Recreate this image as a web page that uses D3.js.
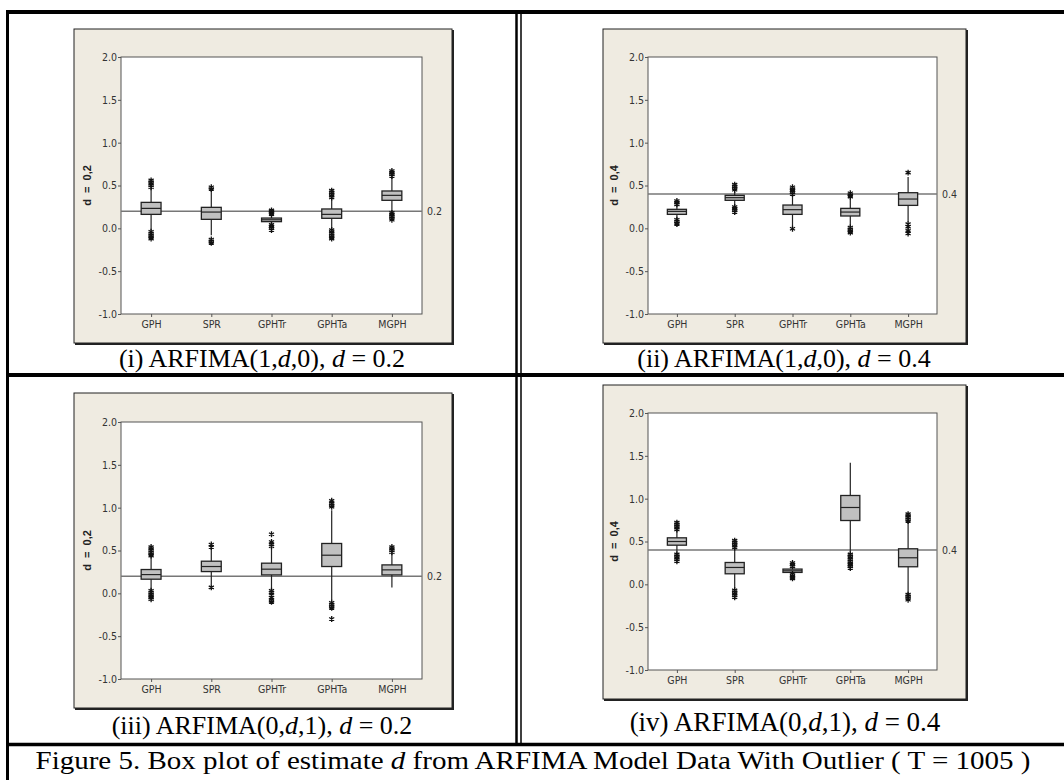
<!DOCTYPE html>
<html>
<head>
<meta charset="utf-8" />
<title>Box plot of estimate d</title>
<script src="https://cdn.jsdelivr.net/npm/d3@7"></script>
<style>
  body { margin: 0; background: #fff; }
  .tick text { font-family: "Liberation Sans Narrow", "DejaVu Sans Condensed", sans-serif; font-size: 10.5px; fill: #333; }
  .tick line { stroke: #555; }
  .cap { font-family: "Liberation Serif", "Times New Roman", Times, serif; }
</style>
</head>
<body>
<script>
// methods on the x axis, same for every panel
var methods = ["GPH", "SPR", "GPHTr", "GPHTa", "MGPH"];
var yTicks = [-1.0, -0.5, 0.0, 0.5, 1.0, 1.5, 2.0];

// each box: [low whisker, Q1, median, Q3, high whisker]
var boxesI = [[-0.02, 0.163, 0.233, 0.303, 0.47], [-0.08, 0.105, 0.19, 0.245, 0.45], [0.05, 0.078, 0.10, 0.12, 0.155], [0.0, 0.117, 0.163, 0.226, 0.35], [0.20, 0.327, 0.385, 0.436, 0.60]];
var outliersI = [[0.48, 0.50, 0.52, 0.54, 0.56, -0.04, -0.06, -0.08, -0.10, -0.12], [0.46, 0.48, -0.13, -0.15, -0.17], [0.165, 0.18, 0.195, 0.21, 0.04, 0.02, 0.0, -0.02], [0.36, 0.38, 0.40, 0.42, 0.44, -0.02, -0.04, -0.06, -0.08, -0.10, -0.12], [0.61, 0.63, 0.65, 0.67, 0.18, 0.16, 0.14, 0.12, 0.10]];

var boxesII = [[0.11, 0.163, 0.198, 0.222, 0.27], [0.27, 0.327, 0.358, 0.385, 0.43], [0.02, 0.163, 0.218, 0.272, 0.39], [0.03, 0.144, 0.19, 0.233, 0.36], [0.08, 0.268, 0.342, 0.416, 0.60]];
var outliersII = [[0.28, 0.30, 0.32, 0.10, 0.08, 0.06, 0.05], [0.45, 0.47, 0.49, 0.51, 0.25, 0.23, 0.21, 0.19], [0.40, 0.42, 0.44, 0.46, 0.48, -0.005], [0.37, 0.39, 0.41, 0.01, -0.01, -0.03, -0.05], [0.65, 0.05, 0.02, -0.03, -0.06]];

var boxesIII = [[0.04, 0.165, 0.219, 0.278, 0.43], [0.10, 0.254, 0.313, 0.375, 0.52], [0.04, 0.215, 0.282, 0.352, 0.54], [-0.08, 0.313, 0.445, 0.582, 0.97], [0.067, 0.215, 0.274, 0.332, 0.47]];
var outliersIII = [[0.44, 0.46, 0.48, 0.50, 0.52, 0.54, 0.03, 0.01, -0.01, -0.03, -0.05, -0.07], [0.54, 0.57, 0.07], [0.55, 0.57, 0.60, 0.69, 0.03, 0.01, -0.02, -0.05, -0.08, -0.10], [1.01, 1.03, 1.05, 1.08, -0.11, -0.13, -0.15, -0.17, -0.30], [0.48, 0.50, 0.52, 0.54]];

var boxesIV = [[0.36, 0.457, 0.50, 0.543, 0.63], [-0.05, 0.123, 0.197, 0.255, 0.42], [0.125, 0.139, 0.158, 0.178, 0.20], [0.36, 0.745, 0.897, 1.037, 1.42], [-0.10, 0.205, 0.31, 0.415, 0.73]];
var outliersIV = [[0.64, 0.66, 0.68, 0.70, 0.72, 0.35, 0.33, 0.31, 0.29, 0.27], [0.43, 0.45, 0.47, 0.49, 0.51, -0.07, -0.09, -0.11, -0.13, -0.15], [0.21, 0.23, 0.25, 0.12, 0.10, 0.08, 0.07], [0.35, 0.33, 0.31, 0.29, 0.27, 0.25, 0.23, 0.21, 0.19], [0.74, 0.76, 0.78, 0.80, 0.82, -0.12, -0.14, -0.16, -0.18]];

var trueD = [0.2, 0.4, 0.2, 0.4];
var yLabels = ["d  =  0,2", "d  =  0,4", "d  =  0,2", "d  =  0,4"];
var captions = [["(i) ARFIMA(1,", "d", ",0), ", "d", " = 0.2"], ["(ii) ARFIMA(1,", "d", ",0), ", "d", " = 0.4"], ["(iii) ARFIMA(0,", "d", ",1), ", "d", " = 0.2"], ["(iv) ARFIMA(0,", "d", ",1), ", "d", " = 0.4"]];

var W = 1064, H = 780;
var svg = d3.select("body").append("svg").attr("width", W).attr("height", H);

// panel layout: frame box, plot box, caption position + size
var panels = [
    { boxes: boxesI, outs: outliersI, frame: [74, 29, 452, 343], plot: [121, 57, 422, 314], cap: [262, 367, 26] },
    { boxes: boxesII, outs: outliersII, frame: [603, 29, 966, 343], plot: [648, 57, 937, 314], cap: [784, 367, 26] },
    { boxes: boxesIII, outs: outliersIII, frame: [74, 393, 452, 708], plot: [121, 422, 422, 679], cap: [262, 734, 26] },
    { boxes: boxesIV, outs: outliersIV, frame: [603, 385, 966, 699], plot: [648, 413, 937, 670], cap: [785, 731, 27] }
];

var star = d3.symbol().type(d3.symbolAsterisk).size(24);

panels.forEach(function (p, k) {
    var g = svg.append("g");
    var f = p.frame, pl = p.plot;

    // beige graph window
    g.append("rect").attr("x", f[0]).attr("y", f[1]).attr("width", f[2] - f[0]).attr("height", f[3] - f[1])
        .attr("fill", "#efebe1").attr("stroke", "#222").attr("stroke-width", 1);
    g.append("path").attr("d", "M" + (f[2] + 1) + "," + (f[1] + 1) + "V" + (f[3] + 1) + "H" + (f[0] + 1))
        .attr("fill", "none").attr("stroke", "#222").attr("stroke-width", 2);

    g.append("rect").attr("x", pl[0]).attr("y", pl[1]).attr("width", pl[2] - pl[0]).attr("height", pl[3] - pl[1])
        .attr("fill", "#fff").attr("stroke", "#555").attr("stroke-width", 1);

    var x = d3.scalePoint().domain(methods).range([pl[0], pl[2]]).padding(0.5);
    var y = d3.scaleLinear().domain([-1, 2]).range([pl[3], pl[1]]);
    var bw = x.step() * 0.33;

    var ya = g.append("g").attr("transform", "translate(" + pl[0] + ",0)")
        .call(d3.axisLeft(y).tickValues(yTicks).tickSize(3).tickPadding(1).tickFormat(function (d) { return d.toFixed(1); }));
    ya.select(".domain").remove();
    var xa = g.append("g").attr("transform", "translate(0," + pl[3] + ")")
        .call(d3.axisBottom(x).tickSize(3).tickPadding(4));
    xa.select(".domain").remove();

    g.append("text").attr("transform", "translate(" + (pl[0] - 30) + "," + ((pl[1] + pl[3]) / 2) + ") rotate(-90)")
        .attr("text-anchor", "middle").attr("font-family", "Liberation Sans, Arial, sans-serif")
        .attr("font-size", "11px").attr("font-weight", "bold").attr("fill", "#222")
        .attr("xml:space", "preserve").text(yLabels[k]);

    // reference line at true d
    g.append("line").attr("x1", pl[0]).attr("x2", pl[2]).attr("y1", y(trueD[k])).attr("y2", y(trueD[k]))
        .attr("stroke", "#777").attr("stroke-width", 1.5);
    g.append("text").attr("x", pl[2] + 5).attr("y", y(trueD[k])).attr("dy", "0.35em")
        .attr("font-family", "Liberation Sans Narrow, DejaVu Sans Condensed, sans-serif").attr("font-size", "10.5px")
        .attr("fill", "#333").text(trueD[k]);

    var bx = g.selectAll(".bx").data(p.boxes).enter().append("g").attr("class", "bx");
    bx.append("line")
        .attr("x1", function (d, i) { return x(methods[i]); })
        .attr("x2", function (d, i) { return x(methods[i]); })
        .attr("y1", function (d) { return y(d[0]); })
        .attr("y2", function (d) { return y(d[4]); })
        .attr("stroke", "#222").attr("stroke-width", 1.2);
    bx.append("rect")
        .attr("x", function (d, i) { return x(methods[i]) - bw / 2; })
        .attr("y", function (d) { return y(d[3]); })
        .attr("width", bw)
        .attr("height", function (d) { return y(d[1]) - y(d[3]); })
        .attr("fill", "#c0c0c0").attr("stroke", "#222").attr("stroke-width", 1.3);
    bx.append("line")
        .attr("x1", function (d, i) { return x(methods[i]) - bw / 2; })
        .attr("x2", function (d, i) { return x(methods[i]) + bw / 2; })
        .attr("y1", function (d) { return y(d[2]); })
        .attr("y2", function (d) { return y(d[2]); })
        .attr("stroke", "#222").attr("stroke-width", 1.2);

    // outliers as asterisks
    p.outs.forEach(function (vals, i) {
        g.selectAll(null).data(vals).enter().append("path")
            .attr("d", star)
            .attr("transform", function (v) { return "translate(" + x(methods[i]) + "," + y(v) + ")"; })
            .attr("fill", "none").attr("stroke", "#111").attr("stroke-width", 1.3);
    });

    // caption under the panel
    var c = p.cap;
    var t = svg.append("text").attr("class", "cap").attr("x", c[0]).attr("y", c[1]).attr("text-anchor", "middle")
        .attr("font-size", c[2] + "px").attr("xml:space", "preserve");
    captions[k].forEach(function (s, j) {
        t.append("tspan").attr("font-style", j % 2 === 1 ? "italic" : "normal").text(s);
    });
});

// table rules
function rule(x1, y1, x2, y2, w) {
    svg.append("line").attr("x1", x1).attr("y1", y1).attr("x2", x2).attr("y2", y2)
        .attr("stroke", "#000").attr("stroke-width", w);
}
rule(6, 12, W, 12, 4);
rule(7.5, 10, 7.5, H, 3);
rule(516.5, 10, 516.5, 746, 2.5);
rule(521, 10, 521, 746, 1.5);
rule(6, 375, W, 375, 4);
rule(6, 744.5, W, 744.5, 3.5);

var fig = svg.append("text").attr("class", "cap").attr("x", 533).attr("y", 769).attr("text-anchor", "middle")
    .attr("font-size", "25px")
    .attr("textLength", 995).attr("lengthAdjust", "spacingAndGlyphs").attr("xml:space", "preserve");
fig.append("tspan").text("Figure 5. Box plot of estimate ");
fig.append("tspan").attr("font-style", "italic").text("d");
fig.append("tspan").text(" from ARFIMA Model Data With Outlier ( T = 1005 )");
</script>
</body>
</html>
